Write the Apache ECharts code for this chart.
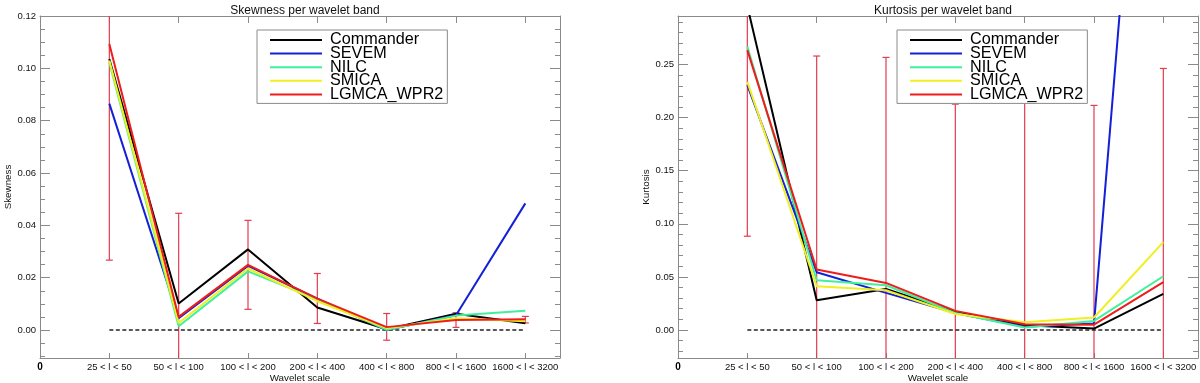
<!DOCTYPE html>
<html>
<head>
<meta charset="utf-8">
<script src="https://cdn.jsdelivr.net/npm/echarts@6/dist/echarts.min.js"></script>
<style>
  html, body { margin: 0; padding: 0; background: #fff; }
  #main { width: 1200px; height: 383px; }
</style>
</head>
<body>
<div id="main"></div>
<script>
// wavelet bands (x positions 1..7)
var bands = ['25 < l < 50', '50 < l < 100', '100 < l < 200', '200 < l < 400', '400 < l < 800', '800 < l < 1600', '1600 < l < 3200'];
var xPos = [1, 2, 3, 4, 5, 6, 7];
var names = ['Commander', 'SEVEM', 'NILC', 'SMICA', 'LGMCA_WPR2'];

// skewness per band
var commanderSkew = [0.1036, 0.0101, 0.0308, 0.0086, 0.0003, 0.0062, 0.0026];
var sevemSkew     = [0.0865, 0.0045, 0.0245, 0.0120, 0.0000, 0.0056, 0.0484];
var nilcSkew      = [0.1022, 0.0014, 0.0224, 0.0118, 0.0001, 0.0055, 0.0074];
var smicaSkew     = [0.1030, 0.0027, 0.0235, 0.0110, 0.0007, 0.0045, 0.0033];
var lgmcaSkew     = [0.1093, 0.0050, 0.0249, 0.0120, 0.0011, 0.0038, 0.0041];
var skewErrLo     = [0.0267, -0.0350, 0.0079, 0.0025, -0.0039, 0.0010, 0.0027];
var skewErrHi     = [0.1920, 0.0446, 0.0419, 0.0216, 0.0063, 0.0066, 0.0052];

// kurtosis per band
var commanderKurt = [0.305, 0.0280, 0.0386, 0.0170, 0.0044, 0.0013, 0.0340];
var sevemKurt     = [0.2306, 0.0544, 0.0349, 0.0160, 0.0030, 0.0060, 0.795];
var nilcKurt      = [0.2670, 0.0468, 0.0421, 0.0160, 0.0023, 0.0085, 0.0506];
var smicaKurt     = [0.2337, 0.0412, 0.0374, 0.0150, 0.0073, 0.0117, 0.0827];
var lgmcaKurt     = [0.2636, 0.0569, 0.0443, 0.0180, 0.0054, 0.0050, 0.0450];
var kurtErrLo     = [0.0883, -0.150, -0.160, -0.190, -0.200, -0.200, -0.160];
var kurtErrHi     = [0.450, 0.2580, 0.2567, 0.2127, 0.2164, 0.2115, 0.2463];

// axis ranges and ticks
var skewRange = [-0.0107, 0.12];
var kurtRange = [-0.0264, 0.2957];
var skewMajor = [0, 0.02, 0.04, 0.06, 0.08, 0.10, 0.12];
var skewMinor = [-0.01, -0.005, 0.005, 0.01, 0.015, 0.025, 0.03, 0.035, 0.045, 0.05, 0.055, 0.065, 0.07, 0.075, 0.085, 0.09, 0.095, 0.105, 0.11, 0.115];
var kurtMajor = [0, 0.05, 0.10, 0.15, 0.20, 0.25];
var kurtMinor = [-0.02, -0.01, 0.01, 0.02, 0.03, 0.04, 0.06, 0.07, 0.08, 0.09, 0.11, 0.12, 0.13, 0.14, 0.16, 0.17, 0.18, 0.19, 0.21, 0.22, 0.23, 0.24, 0.26, 0.27, 0.28, 0.29];

var colors = ['#000000', '#1420d8', '#40f09a', '#f0f020', '#ee1c1c'];
var ERR_COLOR = '#e23c4e';
var FRAME = '#8a8a8a';
var FONT = 'Liberation Sans, Arial, Helvetica, sans-serif';

var chart = echarts.init(document.getElementById('main'));

function pairs(vals) {
    return vals.map(function (v, i) { return [xPos[i], v]; });
}

function errData(lo, hi) {
    return lo.map(function (v, i) { return [xPos[i], v, hi[i]]; });
}

function renderErr(params, api) {
    var cs = params.coordSys;
    var pLo = api.coord([api.value(0), api.value(1)]);
    var pHi = api.coord([api.value(0), api.value(2)]);
    var x = pLo[0];
    var top = Math.max(pHi[1], cs.y);
    var bot = Math.min(pLo[1], cs.y + cs.height);
    var children = [{
        type: 'line',
        shape: { x1: x, y1: top, x2: x, y2: bot },
        style: { stroke: ERR_COLOR, lineWidth: 1.2 }
    }];
    if (pHi[1] >= cs.y) {
        children.push({ type: 'line', shape: { x1: x - 3.5, y1: pHi[1], x2: x + 3.5, y2: pHi[1] }, style: { stroke: ERR_COLOR, lineWidth: 1.2 } });
    }
    if (pLo[1] <= cs.y + cs.height) {
        children.push({ type: 'line', shape: { x1: x - 3.5, y1: pLo[1], x2: x + 3.5, y2: pLo[1] }, style: { stroke: ERR_COLOR, lineWidth: 1.2 } });
    }
    return { type: 'group', children: children };
}

var option = {
    animation: false,
    backgroundColor: '#fff',
    textStyle: { fontFamily: FONT },
    title: [
        { text: 'Skewness per wavelet band', left: 300, textAlign: 'center', top: 0,
          textStyle: { fontSize: 12, fontWeight: 'normal', color: '#111', fontFamily: FONT } },
        { text: 'Kurtosis per wavelet band', left: 938, textAlign: 'center', top: 0,
          textStyle: { fontSize: 12, fontWeight: 'normal', color: '#111', fontFamily: FONT } }
    ],
    legend: [],
    grid: [
        { left: 40, top: 16, width: 520, height: 342, outerBoundsMode: 'none', containLabel: false },
        { left: 678, top: 16, width: 520, height: 342, outerBoundsMode: 'none', containLabel: false }
    ],
    xAxis: [],
    yAxis: [],
    series: []
};

[{ left: 257 }, { left: 897 }].forEach(function (pos) {
    option.legend.push({
        left: pos.left,
        top: 30,
        orient: 'vertical',
        data: names,
        icon: 'rect',
        itemWidth: 52,
        itemHeight: 2,
        itemGap: -2.4,
        padding: [2, 4, 1, 13],
        backgroundColor: '#fff',
        borderColor: FRAME,
        borderWidth: 1,
        selectedMode: false,
        textStyle: { fontSize: 16.2, color: '#000', fontFamily: FONT, padding: [0, 0, 0, 3] }
    });
});

function addPanel(g, range, major, minor, yName, data, errLo, errHi) {
    var xi = option.xAxis.length;
    var yi = option.yAxis.length;
    var noSplit = { show: false };
    // bottom axis with band labels
    option.xAxis.push({
        type: 'value', gridIndex: g, position: 'bottom', min: 0, max: 7.5,
        name: 'Wavelet scale', nameLocation: 'middle', nameGap: 15, nameMoveOverlap: false,
        nameTextStyle: { fontSize: 9.8, color: '#111', fontFamily: FONT },
        axisLine: { onZero: false, lineStyle: { color: FRAME } },
        axisTick: { inside: true, length: 5, customValues: xPos, lineStyle: { color: FRAME } },
        axisLabel: {
            customValues: [0, 1, 2, 3, 4, 5, 6, 7], margin: 4.5, fontSize: 9.5, color: '#111', fontFamily: FONT,
            hideOverlap: false, showMinLabel: true, showMaxLabel: true,
            formatter: function (v) { return v === 0 ? '{z|0}' : (bands[v - 1] || ''); },
            rich: { z: { fontWeight: 'bold', fontSize: 10, color: '#000' } }
        },
        splitLine: noSplit
    });
    // top box axis
    option.xAxis.push({
        type: 'value', gridIndex: g, position: 'top', min: 0, max: 7.5,
        axisLine: { onZero: false, lineStyle: { color: FRAME } },
        axisTick: { inside: true, length: 7, customValues: xPos, lineStyle: { color: FRAME } },
        axisLabel: { show: false },
        splitLine: noSplit
    });
    // left main
    option.yAxis.push({
        type: 'value', gridIndex: g, position: 'left', min: range[0], max: range[1],
        name: yName, nameLocation: 'middle', nameGap: 24.5,
        nameTextStyle: { fontSize: 9.8, color: '#111', fontFamily: FONT },
        axisLine: { onZero: false, lineStyle: { color: FRAME } },
        axisTick: { inside: true, length: 10, customValues: major, lineStyle: { color: FRAME } },
        axisLabel: { customValues: major, margin: 4, fontSize: 9.5, color: '#111', fontFamily: FONT,
            hideOverlap: false,
            formatter: function (v) { return v.toFixed(2); } },
        splitLine: noSplit
    });
    // left minor
    option.yAxis.push({
        type: 'value', gridIndex: g, position: 'left', min: range[0], max: range[1],
        axisLine: { show: false, onZero: false },
        axisTick: { inside: true, length: 5, customValues: minor, lineStyle: { color: FRAME } },
        axisLabel: { show: false },
        splitLine: noSplit
    });
    // right box axis
    option.yAxis.push({
        type: 'value', gridIndex: g, position: 'right', min: range[0], max: range[1],
        axisLine: { onZero: false, lineStyle: { color: FRAME } },
        axisTick: { inside: true, length: 10, customValues: major, lineStyle: { color: FRAME } },
        axisLabel: { show: false },
        splitLine: noSplit
    });
    option.yAxis.push({
        type: 'value', gridIndex: g, position: 'right', min: range[0], max: range[1],
        axisLine: { show: false, onZero: false },
        axisTick: { inside: true, length: 5, customValues: minor, lineStyle: { color: FRAME } },
        axisLabel: { show: false },
        splitLine: noSplit
    });

    option.series.push({
        type: 'custom', xAxisIndex: xi, yAxisIndex: yi,
        renderItem: renderErr,
        encode: { x: 0, y: [1, 2] },
        data: errData(errLo, errHi),
        z: 1
    });
    option.series.push({
        type: 'line', xAxisIndex: xi, yAxisIndex: yi,
        data: [[xPos[0], 0], [xPos[xPos.length - 1], 0]],
        symbol: 'none', silent: true,
        lineStyle: { color: '#222', width: 1.6, type: [4, 2.5] },
        z: 2
    });
    data.forEach(function (vals, k) {
        option.series.push({
            name: names[k], type: 'line', xAxisIndex: xi, yAxisIndex: yi,
            data: pairs(vals), symbol: 'none', clip: true,
            color: colors[k],
            lineStyle: { color: colors[k], width: 2 },
            z: 3
        });
    });
}

addPanel(0, skewRange, skewMajor, skewMinor, 'Skewness',
    [commanderSkew, sevemSkew, nilcSkew, smicaSkew, lgmcaSkew], skewErrLo, skewErrHi);
addPanel(1, kurtRange, kurtMajor, kurtMinor, 'Kurtosis',
    [commanderKurt, sevemKurt, nilcKurt, smicaKurt, lgmcaKurt], kurtErrLo, kurtErrHi);

chart.setOption(option);
</script>
</body>
</html>
